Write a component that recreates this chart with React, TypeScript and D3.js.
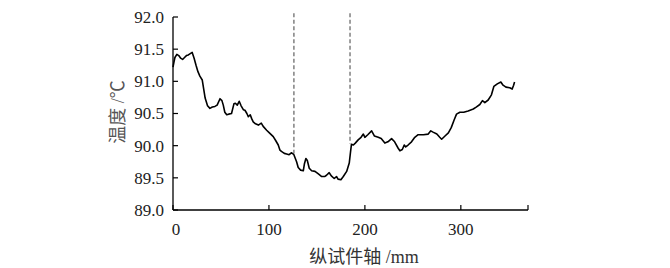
import React from "react";
import * as d3 from "d3";

const positions: number[] = [0,1,2,4,6,8,10,12,14,16,18,20,22,24,26,28,30.5,32,33.5,36,38.5,41,43.7,46,49,51,52.4,54,56,58,61,63.5,65,67,69,71,73.3,75,77,78.5,80.5,82,83.6,86,89,92,94,97.6,101,104.5,107,109.7,111.5,113,116,118.4,121,123.6,126,128.8,130.5,133,135.8,137,138.5,140,142,144.5,148,151.5,155,158,160,162.8,165,168,170.5,172,175,177.5,181,183.7,185,186,188,190,193,196,198.4,200,203,207,210,213.9,217,220.8,224,227.8,231,234.7,236.5,239,241,242.5,245,248.6,252,255.5,261,266,268.7,271,275,278,280,283.5,287,290,293,295.5,299,303,307.6,313,316,319.8,322.5,325,328.5,331.9,334.4,338,341.7,344,347,351,353.5,355,356];
const temps: number[] = [91.22,91.30,91.37,91.42,91.40,91.36,91.34,91.37,91.40,91.41,91.43,91.45,91.36,91.25,91.15,91.08,91.02,90.88,90.74,90.62,90.58,90.60,90.61,90.63,90.73,90.70,90.63,90.52,90.48,90.49,90.50,90.65,90.66,90.63,90.69,90.62,90.56,90.55,90.50,90.45,90.48,90.42,90.37,90.34,90.32,90.35,90.30,90.24,90.19,90.14,90.08,90.01,89.93,89.91,89.88,89.87,89.86,89.89,89.86,89.75,89.66,89.62,89.61,89.72,89.80,89.77,89.65,89.61,89.60,89.56,89.52,89.52,89.54,89.58,89.53,89.49,89.52,89.48,89.47,89.52,89.60,89.73,89.90,90.02,90.01,90.04,90.09,90.13,90.18,90.13,90.17,90.23,90.15,90.13,90.11,90.04,90.06,90.11,90.06,89.96,89.92,89.94,90.01,89.98,90.01,90.06,90.13,90.17,90.17,90.18,90.23,90.21,90.18,90.13,90.10,90.15,90.20,90.28,90.40,90.49,90.52,90.52,90.54,90.57,90.60,90.64,90.70,90.67,90.71,90.79,90.92,90.96,90.99,90.94,90.91,90.90,90.88,90.94,90.99];

const xTicks: number[] = [0, 100, 200, 300];
const yTicks: number[] = [89.0, 89.5, 90.0, 90.5, 91.0, 91.5, 92.0];
const dashX: number[] = [126, 184.5];
const dashBottom: number[] = [89.88, 90.03];
const dashTop = 92.06;
const xDomain: [number, number] = [0, 370];
const yDomain: [number, number] = [89, 92];
const xLabel = "纵试件轴 /mm";
const yLabel = "温度 /℃";

export default function App() {
  const W = 670, H = 268;
  const x = d3.scaleLinear().domain(xDomain).range([173, 528]);
  const y = d3.scaleLinear().domain(yDomain).range([210, 17]);
  const pts: [number, number][] = positions.map((p, i) => [p, temps[i]]);
  const line = d3.line<[number, number]>().x(d => x(d[0])).y(d => y(d[1])).curve(d3.curveLinear);
  const serif = "Liberation Serif";
  const cjk = "Liberation Serif, Noto Sans CJK SC";
  return (
    <svg width={W} height={H} style={{ position: "absolute", left: 0, top: 0, background: "#fff" }}>
      {dashX.map((dx, i) => (
        <line key={"d" + i} x1={x(dx)} x2={x(dx)} y1={y(dashTop)} y2={y(dashBottom[i])}
          stroke="#808080" strokeWidth={1.5} strokeDasharray="4,2.5" />
      ))}
      <path d={line(pts) || ""} fill="none" stroke="#000" strokeWidth={1.6} strokeLinejoin="round" />
      <line x1={x(xDomain[0])} x2={x(xDomain[0])} y1={y(yDomain[0])} y2={y(yDomain[1])} stroke="#000" strokeWidth={1.3} />
      <line x1={x(xDomain[0])} x2={x(xDomain[1])} y1={y(yDomain[0])} y2={y(yDomain[0])} stroke="#000" strokeWidth={1.3} />
      {yTicks.map(t => (
        <g key={"y" + t}>
          <line x1={x(0)} x2={x(0) + 5} y1={y(t)} y2={y(t)} stroke="#000" strokeWidth={1.2} />
          <text x={x(0) - 9} y={y(t)} dy="0.35em" textAnchor="end" fontFamily={serif} fontSize={17} fill="#222">
            {t.toFixed(1)}
          </text>
        </g>
      ))}
      {[...xTicks, xDomain[1]].map(t => (
        <line key={"xt" + t} x1={x(t)} x2={x(t)} y1={y(yDomain[0])} y2={y(yDomain[0]) - 5} stroke="#000" strokeWidth={1.2} />
      ))}
      {xTicks.map(t => (
        <text key={"xl" + t} x={x(t) + (t === 0 ? 3 : 0)} y={235} textAnchor="middle" fontFamily={serif} fontSize={17} fill="#222">
          {t}
        </text>
      ))}
      <text x={364} y={263} textAnchor="middle" fontFamily={cjk} fontSize={18} fill="#333">{xLabel}</text>
      <text transform="translate(124,112) rotate(-90)" textAnchor="middle" fontFamily={cjk} fontSize={18} fill="#555">{yLabel}</text>
    </svg>
  );
}
